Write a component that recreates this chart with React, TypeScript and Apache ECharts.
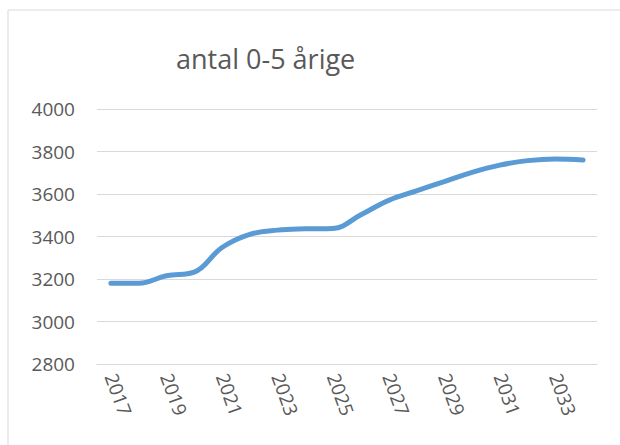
import React, { useEffect, useRef } from "react";
import * as echarts from "echarts";

const years = ["2017","2018","2019","2020","2021","2022","2023","2024","2025","2026","2027","2028","2029","2030","2031","2032","2033","2034"];
const values = [3180, 3180, 3215, 3232, 3348, 3410, 3430, 3436, 3438, 3502, 3570, 3615, 3658, 3702, 3736, 3757, 3765, 3760];
const yTicks = { min: 2800, max: 4000, interval: 200 };
const titleText = "antal 0-5 årige";

export default function App() {
  const ref = useRef<HTMLDivElement>(null);
  useEffect(() => {
    if (!ref.current) return;
    const chart = echarts.init(ref.current, null, { renderer: "svg" });
    chart.setOption({
      animation: false,
      backgroundColor: "#ffffff",
      textStyle: { fontFamily: "Open Sans" },
      graphic: [
        {
          type: "rect",
          shape: { x: 8, y: 10, width: 800, height: 600 },
          style: { fill: "none", stroke: "#d9d9d9", lineWidth: 1 },
          silent: true,
          z: -1,
        },
      ],
      title: {
        text: titleText,
        left: 171,
        top: 40,
        textStyle: { fontFamily: "Open Sans", fontSize: 27, fontWeight: "normal", color: "#595959" },
      },
      grid: { left: 97, right: 23, top: 109, bottom: 81, containLabel: false },
      xAxis: {
        type: "category",
        data: years,
        boundaryGap: true,
        axisLine: { show: true, lineStyle: { color: "#d9d9d9", width: 1 } },
        axisTick: { show: false },
        axisLabel: {
          interval: 1,
          rotate: -70,
          margin: 10,
          color: "#595959",
          fontSize: 19,
          fontFamily: "Open Sans",
        },
      },
      yAxis: {
        type: "value",
        min: yTicks.min,
        max: yTicks.max,
        interval: yTicks.interval,
        axisLine: { show: false },
        axisTick: { show: false },
        splitLine: { lineStyle: { color: "#d9d9d9", width: 1 } },
        axisLabel: {
          color: "#595959",
          fontSize: 19,
          fontFamily: "Open Sans",
          margin: 22,
          formatter: (v: number) => String(v),
        },
      },
      series: [
        {
          type: "line",
          data: values,
          smooth: 0.4,
          symbol: "none",
          lineStyle: { color: "#5B9BD5", width: 5, cap: "round" },
        },
      ],
    });
    return () => chart.dispose();
  }, []);
  return <div ref={ref} style={{ position: "absolute", left: 0, top: 0, width: 620, height: 445 }} />;
}
